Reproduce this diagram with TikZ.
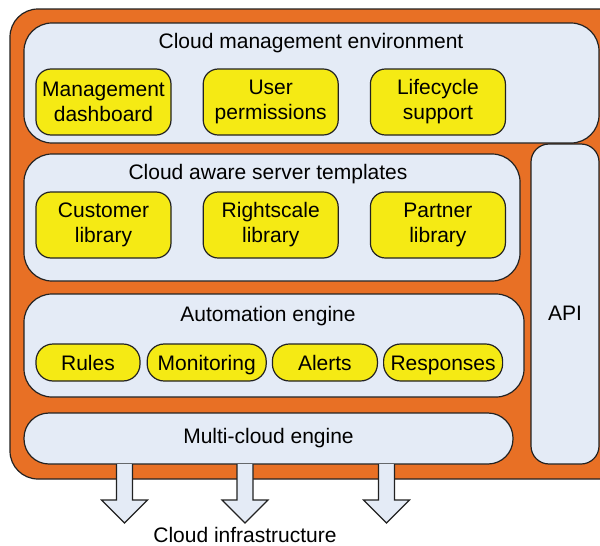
\documentclass[tikz,border=0pt]{standalone}
\usepackage{fontspec}
\setmainfont{Liberation Sans}
\usepackage{tikz}
\usetikzlibrary{
  positioning,
  calc
}
\definecolor{FrameOrange}{HTML}{E87025}
\definecolor{PanelBlue}{HTML}{E4EBF6}
\definecolor{BoxYellow}{HTML}{F5EA14}
\definecolor{EdgeDark}{HTML}{222222}
\tikzset{
  % Outer orange frame
  frame/.style={
    rounded corners=28pt, draw=EdgeDark, fill=FrameOrange, line width=1.2pt
  },
  % Light layer panel
  panel/.style={
    rectangle, rounded corners=#1,
    draw=EdgeDark, fill=PanelBlue, line width=1.2pt,
    inner sep=0pt, font=\fontsize{21}{25}\selectfont
  },
  panel/.default=28pt,
  % Yellow component box
  comp/.style={
    rectangle, rounded corners=15pt,
    draw=EdgeDark, fill=BoxYellow, line width=1.2pt,
    minimum width=135pt, minimum height=66pt, inner sep=0pt,
    align=center, font=\fontsize{21}{25}\selectfont
  },
  % Yellow pill
  pill/.style={
    rectangle, rounded corners=17pt,
    draw=EdgeDark, fill=BoxYellow, line width=1.2pt,
    minimum height=37pt, inner sep=0pt,
    text height=15pt, text depth=0pt,
    font=\fontsize{21}{25}\selectfont
  },
  % Plain label
  ttl/.style={font=\fontsize{21}{25}\selectfont, inner sep=0pt},
  % Block arrow
  blockarr/.style={draw=EdgeDark, fill=PanelBlue, line width=1.2pt, line join=miter}
}
\begin{document}
\begin{tikzpicture}[x=1pt,y=-1pt]
  \useasboundingbox (0,0) rectangle (600,546);
  \clip (0,0) rectangle (600,546);

  % Outer frame (runs past the right edge)
  \draw[frame] (10,9) rectangle (628,479);

  % Layers
  \node[panel, minimum width=575pt, minimum height=120pt] (mgmt)  at (311.5,83)  {};
  \node[panel, minimum width=496pt, minimum height=127pt] (tmpl)  at (272,217.5) {};
  \node[panel, minimum width=500pt, minimum height=103pt] (auto)  at (274,345.5) {};
  \node[panel=25pt, minimum width=489pt, minimum height=51pt] (multi) at (268.5,438.5) {Multi-cloud engine};
  \node[panel=18pt, minimum width=68pt, minimum height=320pt]  (api)   at (565,304)   {};

  % Layer titles
  \node[ttl] (mgmttl) at (311,43)  {Cloud management environment};
  \node[ttl] (tmpltl) at (268,174) {Cloud aware server templates};
  \node[ttl] (autotl) at (268,316) {Automation engine};
  \node[ttl] (apitl)  at (565,313) {API};

  % Management components
  \node[comp] (dash) at (103.5,102) {Management\\dashboard};
  \node[comp, right=31pt of dash] (perm) {User\\permissions};
  \node[comp, right=31pt of perm] (life) {Lifecycle\\support};

  % Template libraries
  \node[comp] (cust) at (103.5,225) {Customer\\library};
  \node[comp, right=31pt of cust] (rscale)  {Rightscale\\library};
  \node[comp, right=31pt of rscale] (partner) {Partner\\library};

  % Automation parts
  \node[pill, minimum width=104pt] (rules) at (88,362.5) {Rules};
  \node[pill, minimum width=119pt, right=6pt of rules] (monit) {Monitoring};
  \node[pill, minimum width=105pt, right=5pt of monit] (alerts) {Alerts};
  \node[pill, minimum width=119pt, right=5pt of alerts] (resp) {Responses};

  % Down arrows to the infrastructure
  \node[ttl, anchor=base] (infra) at (245,542) {Cloud infrastructure};
  \foreach \x in {124.5,245,386.5}
    \draw[blockarr] ({\x-8},{464}) -- ({\x-8},500) -- ({\x-23},500) -- (\x,523)
      -- ({\x+23},500) -- ({\x+8},500) -- ({\x+8},464);

\end{tikzpicture}
\end{document}
